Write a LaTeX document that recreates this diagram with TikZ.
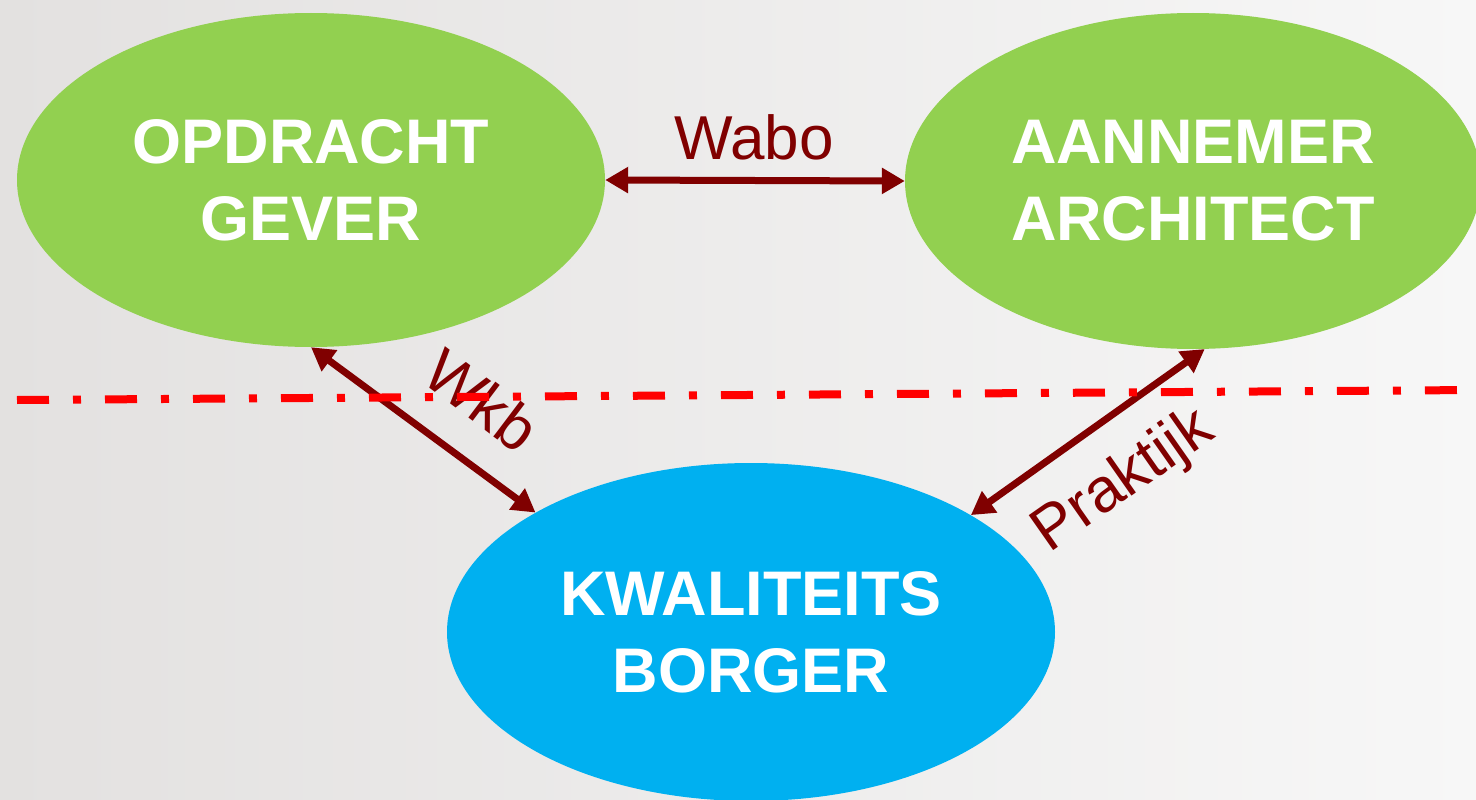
\documentclass[tikz,border=0pt]{standalone}
\usepackage{fontspec}
\setmainfont{Liberation Sans}
\usetikzlibrary{arrows.meta,shapes.geometric}
\definecolor{bgleft}{HTML}{E3E1E0}
\definecolor{bgright}{HTML}{F7F7F7}
\definecolor{leafgreen}{HTML}{92D050}
\definecolor{skyblue}{HTML}{00B0F0}
\definecolor{maroonline}{HTML}{800000}
\definecolor{redline}{HTML}{FF0000}
\tikzset{
  party/.style={ellipse, inner sep=0pt, text=white, align=center,
    font=\fontsize{63}{77}\selectfont\bfseries},
  relarrow/.style={draw=maroonline, line width=7pt,
    {Triangle[length=23pt,width=25pt]}-{Triangle[length=23pt,width=25pt]}, shorten <=0pt, shorten >=0pt},
  rellabel/.style={text=maroonline, inner sep=0pt, font=\fontsize{62}{70}\selectfont},
  borderline/.style={draw=redline, line width=8pt, dash pattern=on 32pt off 24pt on 8pt off 24pt}
}
\begin{document}
\begin{tikzpicture}[x=1pt,y=-1pt]
  \useasboundingbox (0,0) rectangle (1476,800);
  \shade[left color=bgleft, right color=bgright] (0,0) rectangle (1476,800);
  \node[party, fill=leafgreen, minimum width=588pt, minimum height=334pt] (og) at (311,180) {OPDRACHT\\GEVER};
  \node[party, fill=leafgreen, minimum width=576pt, minimum height=336pt] (aa) at (1193,181) {AANNEMER\\ARCHITECT};
  \node[party, fill=skyblue, minimum width=608pt, minimum height=338pt] (kb) at (751,632) {KWALITEITS\\BORGER};
  \draw[relarrow] (og.east) -- (aa.west);
  \draw[relarrow] (og.south) -- (kb.151);
  \draw[relarrow] (aa.-86) -- (kb.28);
  \node[rellabel] (wabo) at (754,137) {Wabo};
  \node[rellabel, rotate=-37] (wkb) at (482,400) {Wkb};
  \node[rellabel, rotate=35] (prak) at (1124,482) {Praktijk};
  \coordinate (dl) at (17,400);
  \coordinate (dr) at (1476,390);
  \draw[borderline] (dl) -- (dr);
\end{tikzpicture}
\end{document}
